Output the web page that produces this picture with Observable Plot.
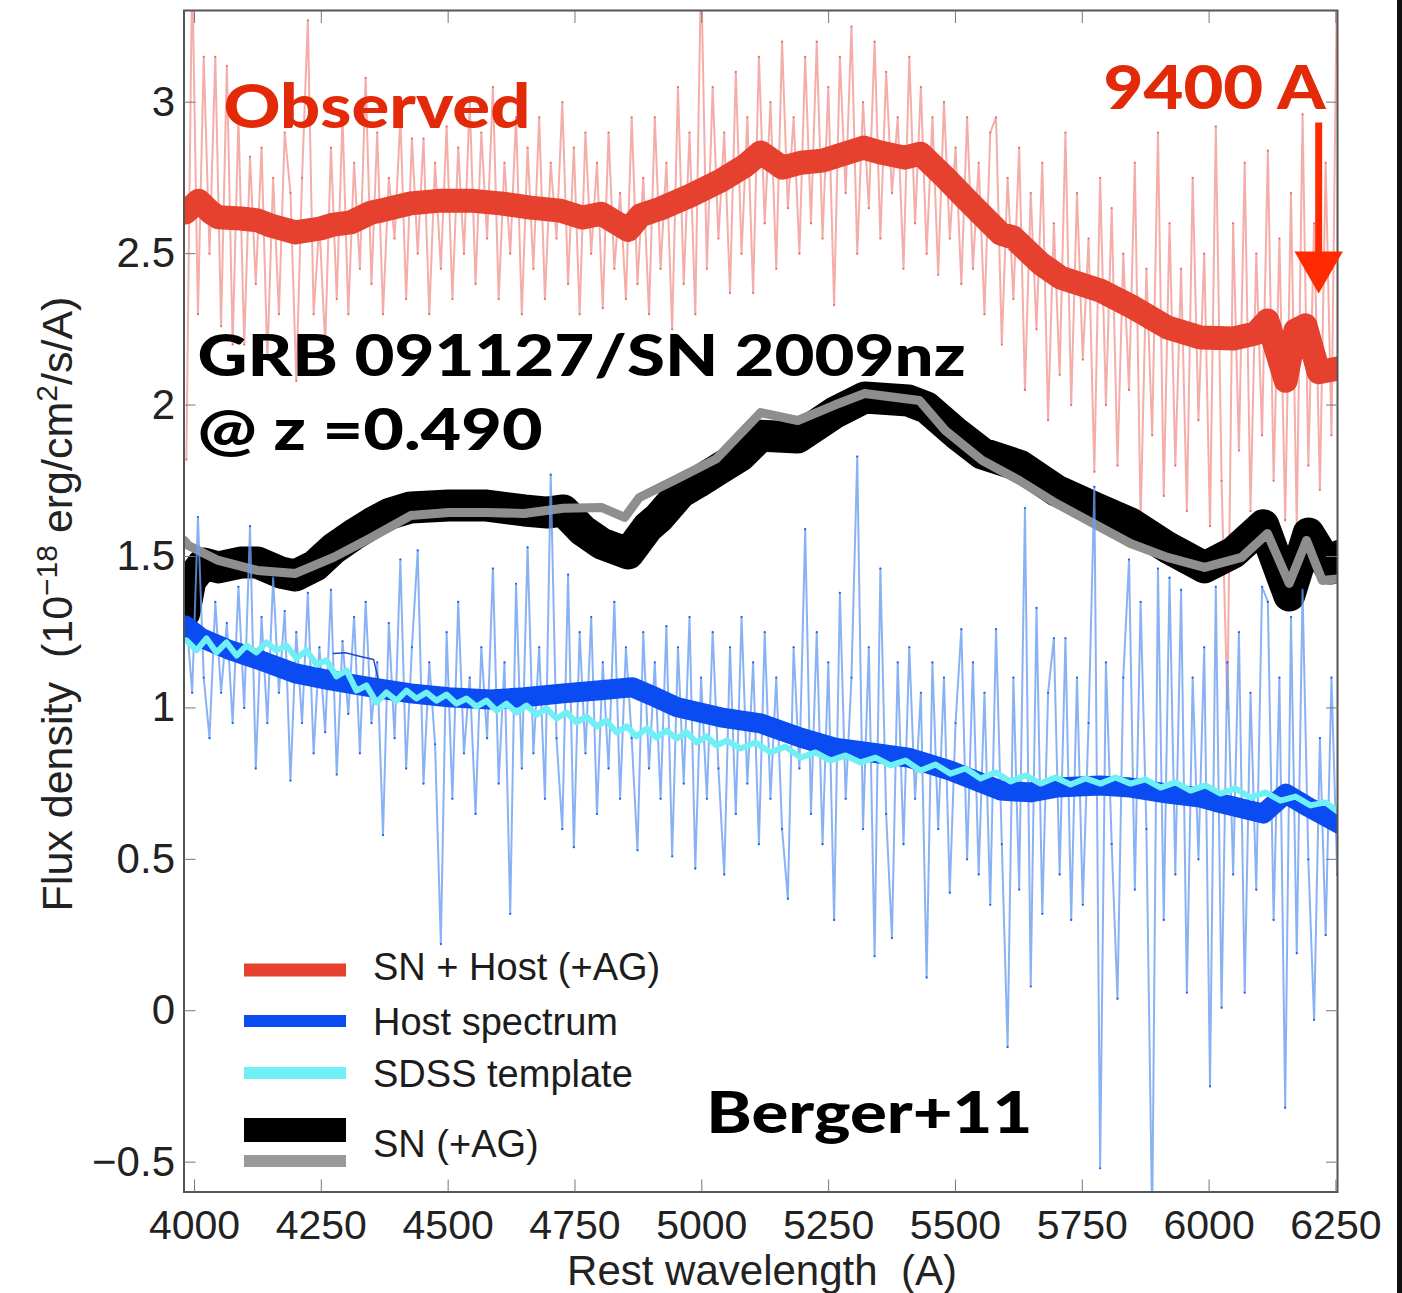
<!DOCTYPE html>
<html><head><meta charset="utf-8">
<script src="https://cdn.jsdelivr.net/npm/d3@7"></script>
<script src="https://cdn.jsdelivr.net/npm/@observablehq/plot@0.6"></script>
<style>
html,body{margin:0;padding:0;background:#fff;}
#chart{position:relative;width:1402px;height:1293px;overflow:hidden;background:#fff;}
#edge{position:absolute;left:1397px;top:0;width:5px;height:1293px;background:#111;}
</style></head><body><div id="chart"><div id="edge"></div></div>
<script>
// ---------- DATA ----------
const xTicks = [4000, 4250, 4500, 4750, 5000, 5250, 5500, 5750, 6000, 6250];
const yTicks = [-0.5, 0, 0.5, 1, 1.5, 2, 2.5, 3];

// noisy spectra sampled on a regular wavelength grid
const noiseStart = 3984, noiseStep = 11.4;
const observedNoisy = [
1.82,3.45,2.30,3.15,2.50,3.15,2.26,3.12,2.20,2.95,
2.20,2.82,2.40,2.85,2.15,2.75,2.30,2.90,2.70,2.08,
2.75,3.27,2.30,2.60,2.20,2.85,2.35,2.95,2.30,2.80,
2.45,3.08,2.40,2.90,2.30,2.75,2.55,2.95,2.35,2.88,
2.50,2.88,2.30,2.80,2.45,2.92,2.35,2.85,2.50,3.00,
2.40,2.90,2.55,3.05,2.35,2.80,2.50,2.95,2.30,2.85,
2.45,2.95,2.35,2.80,2.55,3.00,2.40,2.85,2.30,2.90,
2.50,2.80,2.32,2.90,2.45,2.70,2.35,2.95,2.40,2.75,
2.30,2.95,2.45,2.80,2.25,3.05,2.40,2.90,2.30,3.45,
2.45,3.05,2.55,2.90,2.37,3.10,2.50,2.95,2.37,3.15,
2.60,3.00,2.45,3.20,2.65,2.95,2.50,3.15,2.60,3.20,
2.55,3.05,2.33,3.15,2.70,3.25,2.50,3.00,2.65,3.20,
2.55,3.10,2.70,2.95,2.45,3.15,2.60,3.05,2.50,2.95,
2.43,3.00,2.55,2.85,2.40,2.95,2.45,2.80,2.30,2.90,
2.95,2.20,2.75,2.35,2.85,2.05,2.70,2.25,2.80,1.95,
2.60,2.10,2.90,2.00,2.70,2.15,2.55,1.78,2.75,2.00,
2.65,1.80,2.50,2.05,2.80,1.62,2.45,1.90,2.90,1.70,
2.60,1.80,2.45,1.65,2.75,1.95,2.50,1.60,2.92,1.75,
1.00,2.60,1.85,2.80,1.65,2.50,1.90,2.84,1.75,2.55,
1.62,2.70,1.60,2.96,1.80,2.60,1.72,2.80,1.90,3.50
];
const hostNoisy = [
1.30,1.05,1.63,1.10,0.90,1.35,1.05,1.28,0.95,1.40,
1.00,1.60,0.80,1.30,0.95,1.43,1.05,1.32,0.76,1.25,
0.95,1.38,0.85,1.20,0.92,1.39,0.78,1.22,0.98,1.30,
0.85,1.35,0.95,1.15,0.58,1.28,0.90,1.49,0.80,1.20,
1.52,0.75,1.15,0.88,0.22,1.25,0.70,1.35,0.85,1.10,
0.65,1.20,0.90,1.46,0.75,1.15,0.32,1.41,0.80,1.53,
0.85,1.20,0.70,1.77,0.90,0.60,1.44,0.54,1.25,0.85,
1.30,0.65,1.15,0.80,1.35,0.70,1.20,0.90,0.53,1.25,
0.80,1.15,0.70,1.27,0.51,1.20,0.75,1.30,0.47,1.10,
0.70,1.25,0.80,0.45,1.20,0.65,1.30,0.75,1.15,0.55,
1.25,0.70,1.10,0.60,0.37,1.20,0.80,1.59,0.65,1.25,
0.55,1.15,0.30,1.38,0.70,1.10,1.83,0.60,1.20,0.18,
1.46,0.65,0.24,1.15,0.55,1.20,0.70,1.05,0.11,1.15,
0.60,1.10,0.39,0.95,1.26,0.50,1.15,0.45,1.05,0.35,
1.26,0.55,-0.12,1.10,0.40,1.66,0.08,1.33,0.32,1.05,
1.23,0.45,1.23,0.30,1.10,0.35,0.95,1.73,-0.52,1.15,
0.55,0.04,1.10,1.49,0.40,1.35,0.60,-0.70,1.46,0.30,
1.43,0.45,1.39,0.06,1.10,0.50,1.20,-0.25,1.40,0.01,
1.15,0.45,1.25,0.06,1.05,0.40,1.40,1.35,0.30,1.10,
-0.32,1.30,0.19,1.39,0.50,-0.03,0.90,0.25,1.10,0.45
];

// smoothed curves [wavelength, flux]
const observedSmooth = [
[3982,2.636],[4008,2.675],[4032,2.636],[4047,2.620],[4091,2.616],[4124,2.610],[4150,2.593],[4199,2.570],
[4248,2.583],[4274,2.596],[4308,2.603],[4349,2.636],[4367,2.642],[4426,2.666],[4485,2.675],[4544,2.675],
[4603,2.666],[4662,2.652],[4721,2.642],[4765,2.619],[4802,2.632],[4855,2.578],[4879,2.626],[4919,2.649],
[4978,2.692],[5037,2.741],[5086,2.791],[5116,2.834],[5159,2.784],[5195,2.800],[5238,2.807],[5319,2.850],
[5352,2.834],[5400,2.817],[5431,2.830],[5480,2.751],[5524,2.675],[5589,2.566],[5614,2.553],[5668,2.467],
[5707,2.421],[5786,2.378],[5851,2.322],[5918,2.256],[5983,2.223],[6048,2.220],[6091,2.236],[6115,2.279],
[6151,2.080],[6170,2.246],[6190,2.263],[6216,2.108],[6256,2.121]
];
const snBlack = [
[3980,1.315],[3992,1.421],[4018,1.477],[4047,1.464],[4091,1.480],[4124,1.480],[4170,1.447],[4199,1.437],
[4238,1.470],[4274,1.526],[4311,1.569],[4349,1.609],[4386,1.642],[4426,1.662],[4501,1.668],[4576,1.668],
[4650,1.652],[4696,1.645],[4727,1.652],[4765,1.586],[4802,1.543],[4855,1.510],[4893,1.596],[4915,1.628],
[4958,1.711],[4991,1.744],[5029,1.784],[5076,1.833],[5116,1.899],[5189,1.893],[5262,1.975],[5321,2.025],
[5407,2.015],[5443,1.992],[5502,1.906],[5553,1.840],[5626,1.800],[5699,1.718],[5772,1.662],[5845,1.609],
[5918,1.530],[5991,1.464],[6048,1.513],[6107,1.603],[6158,1.371],[6196,1.576],[6239,1.460],[6259,1.503]
];
const snGray = [
[3980,1.553],[3988,1.536],[4047,1.487],[4124,1.454],[4199,1.444],[4274,1.497],[4349,1.563],[4426,1.635],
[4501,1.645],[4576,1.645],[4650,1.642],[4727,1.659],[4802,1.662],[4848,1.629],[4877,1.695],[4952,1.757],
[5029,1.823],[5116,1.975],[5189,1.949],[5262,2.000],[5321,2.038],[5429,2.015],[5480,1.916],[5553,1.817],
[5626,1.751],[5699,1.675],[5772,1.609],[5845,1.543],[5918,1.497],[5991,1.464],[6064,1.497],[6115,1.576],
[6158,1.411],[6192,1.553],[6223,1.421],[6259,1.427]
];
const hostSmooth = [
[3982,1.272],[4012,1.232],[4071,1.190],[4130,1.157],[4199,1.114],[4268,1.091],[4349,1.068],[4426,1.048],
[4501,1.035],[4583,1.028],[4650,1.035],[4727,1.048],[4800,1.058],[4863,1.068],[4909,1.035],[4952,1.002],
[5037,0.969],[5116,0.949],[5195,0.902],[5262,0.869],[5333,0.853],[5407,0.836],[5490,0.793],[5589,0.727],
[5648,0.721],[5699,0.737],[5786,0.744],[5845,0.737],[5918,0.717],[5983,0.704],[6026,0.684],[6107,0.651],
[6151,0.717],[6190,0.678],[6256,0.618]
];
const sdssWave = [
3984.2,4003.9,4023.7,4043.4,4063.1,4082.8,4102.5,4122.2,4141.9,4161.6,4181.4,4201.1,4220.8,4240.5,4260.2,
4279.9,4299.6,4319.3,4339.0,4358.8,4378.5,4398.2,4417.9,4437.6,4457.3,4477.0,4496.7,4516.5,4536.2,4555.9,
4575.6,4595.3,4615.0,4634.7,4654.4,4674.2,4693.9,4713.6,4733.3,4753.0,4772.7,4792.4,4812.1,4831.8,4851.6,
4871.3,4891.0,4910.7,4930.4,4950.1,4969.8,4989.5,5009.3,5029.0,5048.7,5076.3,5105.9,5135.4,5165.0,5194.6,
5224.1,5253.7,5283.3,5312.8,5342.4,5372.0,5401.5,5431.1,5460.7,5490.2,5519.8,5549.4,5578.9,5608.5,5638.1,
5667.6,5697.2,5726.8,5756.3,5785.9,5815.5,5845.0,5874.6,5904.2,5933.7,5963.3,5992.9,6022.4,6052.0,6081.6,
6111.1,6140.7,6170.3,6199.8,6229.4,6256.0
];
const sdssFlux = [
1.223,1.190,1.229,1.183,1.216,1.173,1.206,1.183,1.216,1.190,1.206,1.163,1.190,1.143,1.157,
1.104,1.124,1.057,1.074,1.018,1.051,1.024,1.057,1.031,1.051,1.024,1.044,1.014,1.031,1.004,
1.024,0.991,1.014,0.985,1.008,0.978,0.998,0.965,0.985,0.952,0.972,0.939,0.958,0.919,0.939,
0.906,0.932,0.902,0.925,0.899,0.919,0.886,0.906,0.876,0.892,0.866,0.886,0.853,0.872,0.836,
0.853,0.826,0.843,0.820,0.836,0.810,0.826,0.793,0.813,0.783,0.800,0.767,0.787,0.757,0.777,
0.750,0.770,0.747,0.767,0.750,0.770,0.750,0.764,0.737,0.754,0.727,0.744,0.717,0.734,0.704,
0.721,0.694,0.707,0.678,0.688,0.655
];
const hostFragment = [[4274,1.18],[4298,1.182],[4327,1.17],[4353,1.16],[4363,1.09]];

// annotations
const labels = [
  {text: "Observed", w: 4057, f: 2.916, color: "#e32a08", size: 60},
  {text: "9400 A", w: 5792, f: 2.979, color: "#e32a08", size: 60},
  {text: "GRB 091127/SN 2009nz", w: 4006, f: 2.097, color: "#000", size: 57},
  {text: "@ z =0.490", w: 4006, f: 1.850, color: "#000", size: 57},
  {text: "Berger+11", w: 5009, f: -0.405, color: "#000", size: 58}
];
const labelWidths = {"Observed": 307, "9400 A": 222, "GRB 091127/SN 2009nz": 768, "@ z =0.490": 345, "Berger+11": 326};
const arrowShaft = [{w: 6216, f1: 2.933, f2: 2.50}];
const arrowHead = [{w: 6216, f: 2.461}];

// legend entries
const legendLabels = ["SN + Host (+AG)", "Host spectrum", "SDSS template", "SN (+AG)"];
const legendColors = ["#e6402f", "#0a4cf2", "#6ef0f6", "#000"];

// ---------- BUILD ----------
const obsNoise = observedNoisy.map((f, i) => ({w: noiseStart + i * noiseStep, f}));
const hostNoise = hostNoisy.map((f, i) => ({w: noiseStart + i * noiseStep, f}));
const sdss = sdssWave.map((w, i) => ({w, f: sdssFlux[i]}));
const X = d => d[0], Y = d => d[1];
const fmt = d => d < 0 ? "\u2212" + Math.abs(d) : String(d);

const plot = Plot.plot({
  width: 1402, height: 1293,
  marginLeft: 183.5, marginRight: 65, marginTop: 10, marginBottom: 101.5,
  style: {fontFamily: "'Liberation Sans', Arial, Helvetica, sans-serif", color: "#222", background: "transparent", overflow: "visible"},
  x: {domain: [3979.3, 6253.1]},
  y: {domain: [-0.5985, 3.3028]},
  marks: [
    Plot.line(obsNoise, {x: "w", y: "f", stroke: "#ee7a74", strokeWidth: 2, strokeOpacity: 0.62, clip: true}),
    Plot.dot(obsNoise, {x: "w", y: "f", r: 1.1, fill: "#d8403a", fillOpacity: 0.6, clip: true}),
    Plot.line(observedSmooth, {x: X, y: Y, stroke: "#e6402f", strokeWidth: 24, strokeLinejoin: "round", strokeLinecap: "round", clip: true}),
    Plot.line(snBlack, {x: X, y: Y, stroke: "#000", strokeWidth: 32, strokeLinejoin: "round", strokeLinecap: "round", clip: true}),
    Plot.line(snGray, {x: X, y: Y, stroke: "#8e8e8e", strokeWidth: 9, strokeLinejoin: "round", strokeLinecap: "round", clip: true}),
    Plot.line(hostNoise, {x: "w", y: "f", stroke: "#6b9ff2", strokeWidth: 2, strokeOpacity: 0.8, clip: true}),
    Plot.dot(hostNoise, {x: "w", y: "f", r: 1.1, fill: "#1f5fe6", clip: true}),
    Plot.line(hostSmooth, {x: X, y: Y, stroke: "#0a4cf2", strokeWidth: 20, strokeLinejoin: "round", strokeLinecap: "round", clip: true}),
    Plot.line(sdss, {x: "w", y: "f", stroke: "#6ef0f6", strokeWidth: 6, strokeLinejoin: "round", clip: true}),
    Plot.line(hostFragment, {x: X, y: Y, stroke: "#2448c8", strokeWidth: 1.5}),
    Plot.frame({stroke: "#555", strokeWidth: 2}),
    Plot.axisX(xTicks, {anchor: "bottom", tickSize: 0, tickPadding: 18, fontSize: 41, label: null, tickFormat: d => String(d)}),
    Plot.axisX(xTicks, {anchor: "bottom", tickSize: 12, dy: -12, tickFormat: () => "", stroke: "#777", label: null}),
    Plot.axisX(xTicks, {anchor: "top", tickSize: 12, dy: 12, tickFormat: () => "", stroke: "#777", label: null}),
    Plot.axisY(yTicks, {anchor: "left", tickSize: 0, tickPadding: 9, fontSize: 42, label: null, tickFormat: fmt}),
    Plot.axisY(yTicks, {anchor: "left", tickSize: 12, dx: 12, tickFormat: () => "", stroke: "#777", label: null}),
    Plot.axisY(yTicks, {anchor: "right", tickSize: 12, dx: -12, tickFormat: () => "", stroke: "#777", label: null}),
    Plot.link(arrowShaft, {x1: "w", x2: "w", y1: "f1", y2: "f2", stroke: "#ff2a00", strokeWidth: 7}),
    Plot.dot(arrowHead, {x: "w", y: "f", symbol: "triangle", rotate: 180, r: 18, fill: "#ff2a00"}),
    Plot.text(labels, {x: "w", y: "f", text: "text", fill: "color", fontSize: "size", textAnchor: "start", lineAnchor: "bottom",
      fontFamily: "Lato, 'Open Sans', sans-serif", fontWeight: 900})
  ]
});

const svg = d3.select(plot);
svg.selectAll("text").each(function() {
  const t = this.textContent;
  if (labelWidths[t]) { this.setAttribute("textLength", labelWidths[t]); this.setAttribute("lengthAdjust", "spacingAndGlyphs"); }
});

// axis titles
svg.append("text").attr("x", 762).attr("y", 1285).attr("text-anchor", "middle")
  .attr("font-size", 42).attr("fill", "#222").style("white-space", "pre").text("Rest wavelength  (A)");
const yl = svg.append("text").attr("transform", "translate(72,604) rotate(-90)").attr("text-anchor", "middle")
  .attr("font-size", 43).attr("fill", "#222").style("white-space", "pre");
yl.append("tspan").text("Flux density  (10");
yl.append("tspan").attr("dy", -15).attr("font-size", 30).text("\u221218");
yl.append("tspan").attr("dy", 15).text(" erg/cm");
yl.append("tspan").attr("dy", -15).attr("font-size", 30).text("2");
yl.append("tspan").attr("dy", 15).text("/s/A)");

// legend (inside plot area, lower left)
const legendLineY = [970, 1021, 1073, 1130];
const legendLineW = [13, 12, 12, 24];
const legendTextY = [980, 1035, 1087, 1157];
const lg = svg.append("g").attr("text-anchor", "start");
legendLabels.forEach((label, i) => {
  lg.append("line").attr("x1", 244).attr("x2", 346).attr("y1", legendLineY[i]).attr("y2", legendLineY[i])
    .attr("stroke", legendColors[i]).attr("stroke-width", legendLineW[i]);
  lg.append("text").attr("x", 373).attr("y", legendTextY[i]).attr("text-anchor", "start")
    .attr("font-size", 38).attr("fill", "#1c1c1c").text(label);
});
lg.append("line").attr("x1", 244).attr("x2", 346).attr("y1", 1161).attr("y2", 1161).attr("stroke", "#999").attr("stroke-width", 12);

document.getElementById("chart").appendChild(plot);
</script></body></html>
